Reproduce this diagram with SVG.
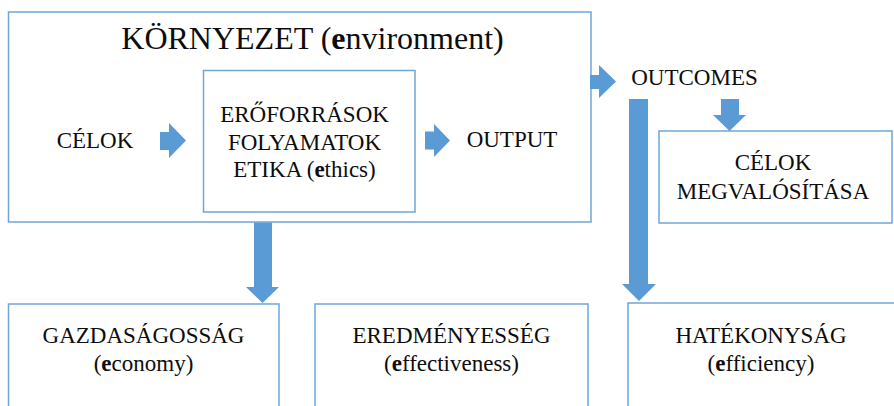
<svg xmlns="http://www.w3.org/2000/svg" width="894" height="406" viewBox="0 0 894 406">
<style>
.box{fill:#ffffff;stroke:#6fa6da;stroke-width:1.5}
.arr{fill:#5b9bd5;stroke:none}
.lbl{font-family:'Liberation Serif','DejaVu Serif',serif;fill:#0d0d0d;text-anchor:middle}
.t{font-size:23px}
.big{font-size:32px}
.b{font-weight:bold}
</style>
<rect width="894" height="406" fill="#ffffff"/>
<g font-family="Liberation Serif, DejaVu Serif, serif">
<g id="environment">
<rect class="box" x="8.5" y="12" width="582.5" height="210"/>
<text class="lbl big" font-family="Liberation Serif, serif" x="312.5" y="48.5">KÖRNYEZET (<tspan class="b">e</tspan>nvironment)</text>
</g>
<g id="celok">
<text class="lbl t" font-family="Liberation Serif, serif" x="95" y="148">CÉLOK</text>
</g>
<g id="resources">
<rect class="box" x="203.5" y="70.5" width="211.5" height="141.5"/>
<text class="lbl t" font-family="Liberation Serif, serif" x="304.5" y="122">ERŐFORRÁSOK</text>
<text class="lbl t" font-family="Liberation Serif, serif" x="304.5" y="149.5">FOLYAMATOK</text>
<text class="lbl t" font-family="Liberation Serif, serif" x="304.5" y="177">ETIKA (<tspan class="b">e</tspan>thics)</text>
</g>
<g id="output">
<text class="lbl t" font-family="Liberation Serif, serif" x="512" y="147">OUTPUT</text>
</g>
<g id="outcomes">
<text class="lbl t" font-family="Liberation Serif, serif" x="694.5" y="85">OUTCOMES</text>
</g>
<g id="goals">
<rect class="box" x="659" y="131" width="233" height="92"/>
<text class="lbl t" font-family="Liberation Serif, serif" x="773" y="170">CÉLOK</text>
<text class="lbl t" font-family="Liberation Serif, serif" x="773" y="199">MEGVALÓSÍTÁSA</text>
</g>
<g id="economy">
<rect class="box" x="8.5" y="304" width="270.5" height="110"/>
<text class="lbl t" font-family="Liberation Serif, serif" x="143.5" y="343">GAZDASÁGOSSÁG</text>
<text class="lbl t" font-family="Liberation Serif, serif" x="143.5" y="371">(<tspan class="b">e</tspan>conomy)</text>
</g>
<g id="effectiveness">
<rect class="box" x="315" y="304" width="273" height="110"/>
<text class="lbl t" font-family="Liberation Serif, serif" x="451.5" y="343">EREDMÉNYESSÉG</text>
<text class="lbl t" font-family="Liberation Serif, serif" x="451.5" y="371">(<tspan class="b">e</tspan>ffectiveness)</text>
</g>
<g id="efficiency">
<rect class="box" x="628" y="303" width="270" height="110"/>
<text class="lbl t" font-family="Liberation Serif, serif" x="761" y="343">HATÉKONYSÁG</text>
<text class="lbl t" font-family="Liberation Serif, serif" x="761" y="371">(<tspan class="b">e</tspan>fficiency)</text>
</g>
</g>
<g id="connectors">
<polygon class="arr" points="160,132 169,132 169,123 186,140.5 169,158 169,150 160,150"/>
<polygon class="arr" points="425,131.5 434,131.5 434,124 450,140.5 434,157 434,149.5 425,149.5"/>
<polygon class="arr" points="590,75 599,75 599,65 616,81.5 599,98 599,89 590,89"/>
<polygon class="arr" points="254,222.5 272,222.5 272,287 279,287 262.5,303 246,287 254,287"/>
<polygon class="arr" points="629,99 648,99 648,284 656,284 639,301 622,284 629,284"/>
<polygon class="arr" points="721,99 739,99 739,115 746,115 729.5,131 713,115 721,115"/>
</g>
</svg>
